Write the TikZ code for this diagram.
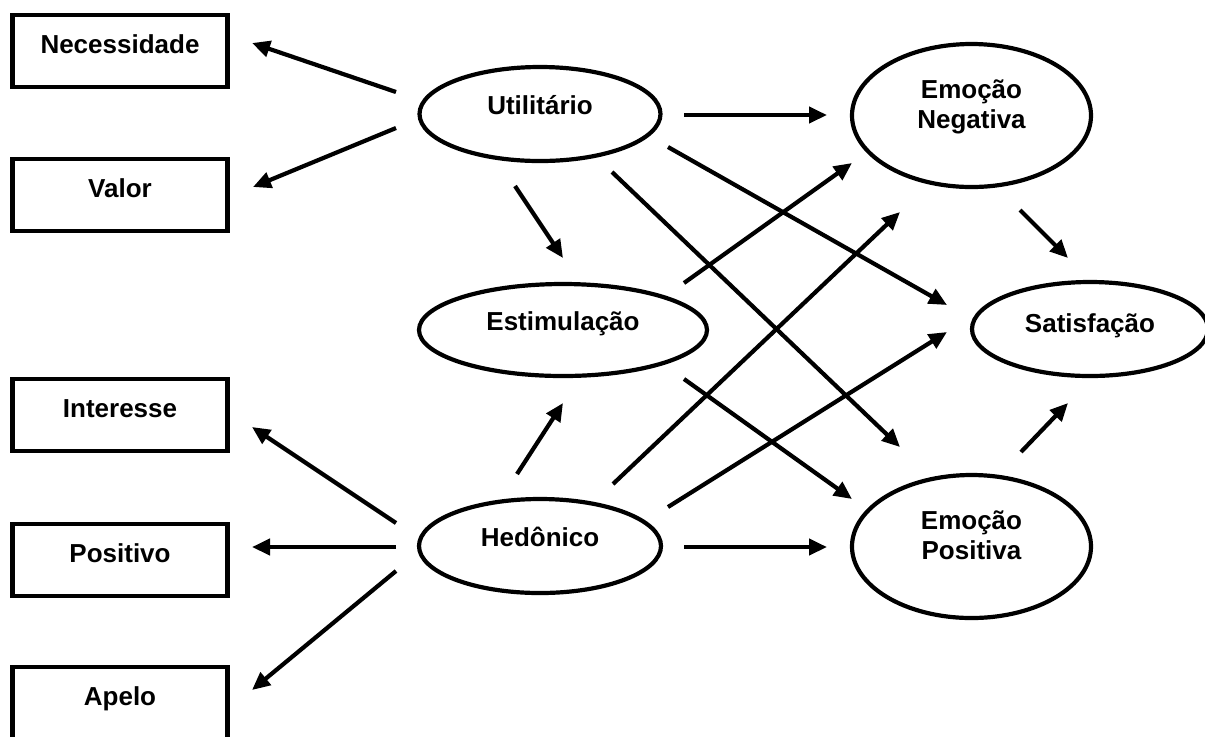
\documentclass[tikz,border=0pt]{standalone}
\usepackage{fontspec}
\setmainfont{Liberation Sans}
\usetikzlibrary{arrows.meta,shapes.geometric}
\begin{document}
\begin{tikzpicture}[x=0.5pt,y=-0.5pt,
  every node/.style={font=\fontsize{13pt}{15pt}\selectfont\bfseries, inner sep=0pt, outer sep=0pt},
  indbox/.style={draw, line width=2.4pt, minimum width=107.5pt, text height=19pt, text depth=17pt},
  construct/.style={draw, ellipse, line width=2.1pt, text height=8pt, text depth=8pt},
  twoline/.style={construct, minimum width=119.5pt, minimum height=71.5pt, text height=16.5pt, text depth=4pt},
  link/.style={line width=2.1pt, -{Triangle[length=9pt,width=8pt]}}
]
\useasboundingbox (0,0) rectangle (1205,736);
\clip (0,0) rectangle (1205,736);

% indicators
\node[indbox] (nec) at (120,51)  {Necessidade};
\node[indbox] (val) at (120,195) {Valor};
\node[indbox] (int) at (120,415) {Interesse};
\node[indbox] (pos) at (120,560) {Positivo};
\node[indbox] (ape) at (120,703) {Apelo};

% latent constructs
\node[construct, minimum width=120.5pt, minimum height=47pt] (util)  at (540,114) {Utilitário};
\node[construct, minimum width=144pt,   minimum height=46pt] (estim) at (563,330) {Estimulação};
\node[construct, minimum width=121pt,   minimum height=47pt] (hed)   at (540,546) {Hedônico};
\node[construct, minimum width=118pt,   minimum height=47pt,
      text height=9.5pt, text depth=6.5pt] (sat) at (1090,329) {Satisfação};
\node[twoline] (eneg) at (971.5,115.5)
  {\begin{tabular}[b]{@{}c@{}}Emoção\\Negativa\end{tabular}};
\node[twoline] (epos) at (971.5,546.5)
  {\begin{tabular}[b]{@{}c@{}}Emoção\\Positiva\end{tabular}};

% paths (free-standing arrows between the constructs)
\foreach \n/\sx/\sy/\ex/\ey in {
  util-nec/396/92/252/43,
  util-val/396/128/253/187,
  hed-int/396/523/252/427,
  hed-pos/396/547/252/547,
  hed-ape/396/571/252/690,
  util-estim/515/186/563/258,
  hed-estim/517/474/563/403,
  util-eneg/684/115/827/115,
  util-sat/668/147/947/305,
  util-epos/612/172/900/447,
  estim-eneg/684/283/852/163,
  hed-eneg/613/484/900/212,
  hed-sat/668/507/947/332,
  estim-epos/684/379/852/499,
  hed-epos/684/547/827/547,
  eneg-sat/1020/210/1068/258,
  epos-sat/1021/452/1068/403}
{
  \coordinate (\n-s) at (\sx,\sy);
  \coordinate (\n-e) at (\ex,\ey);
  \draw[link] (\n-s) -- (\n-e);
}
\end{tikzpicture}
\end{document}
